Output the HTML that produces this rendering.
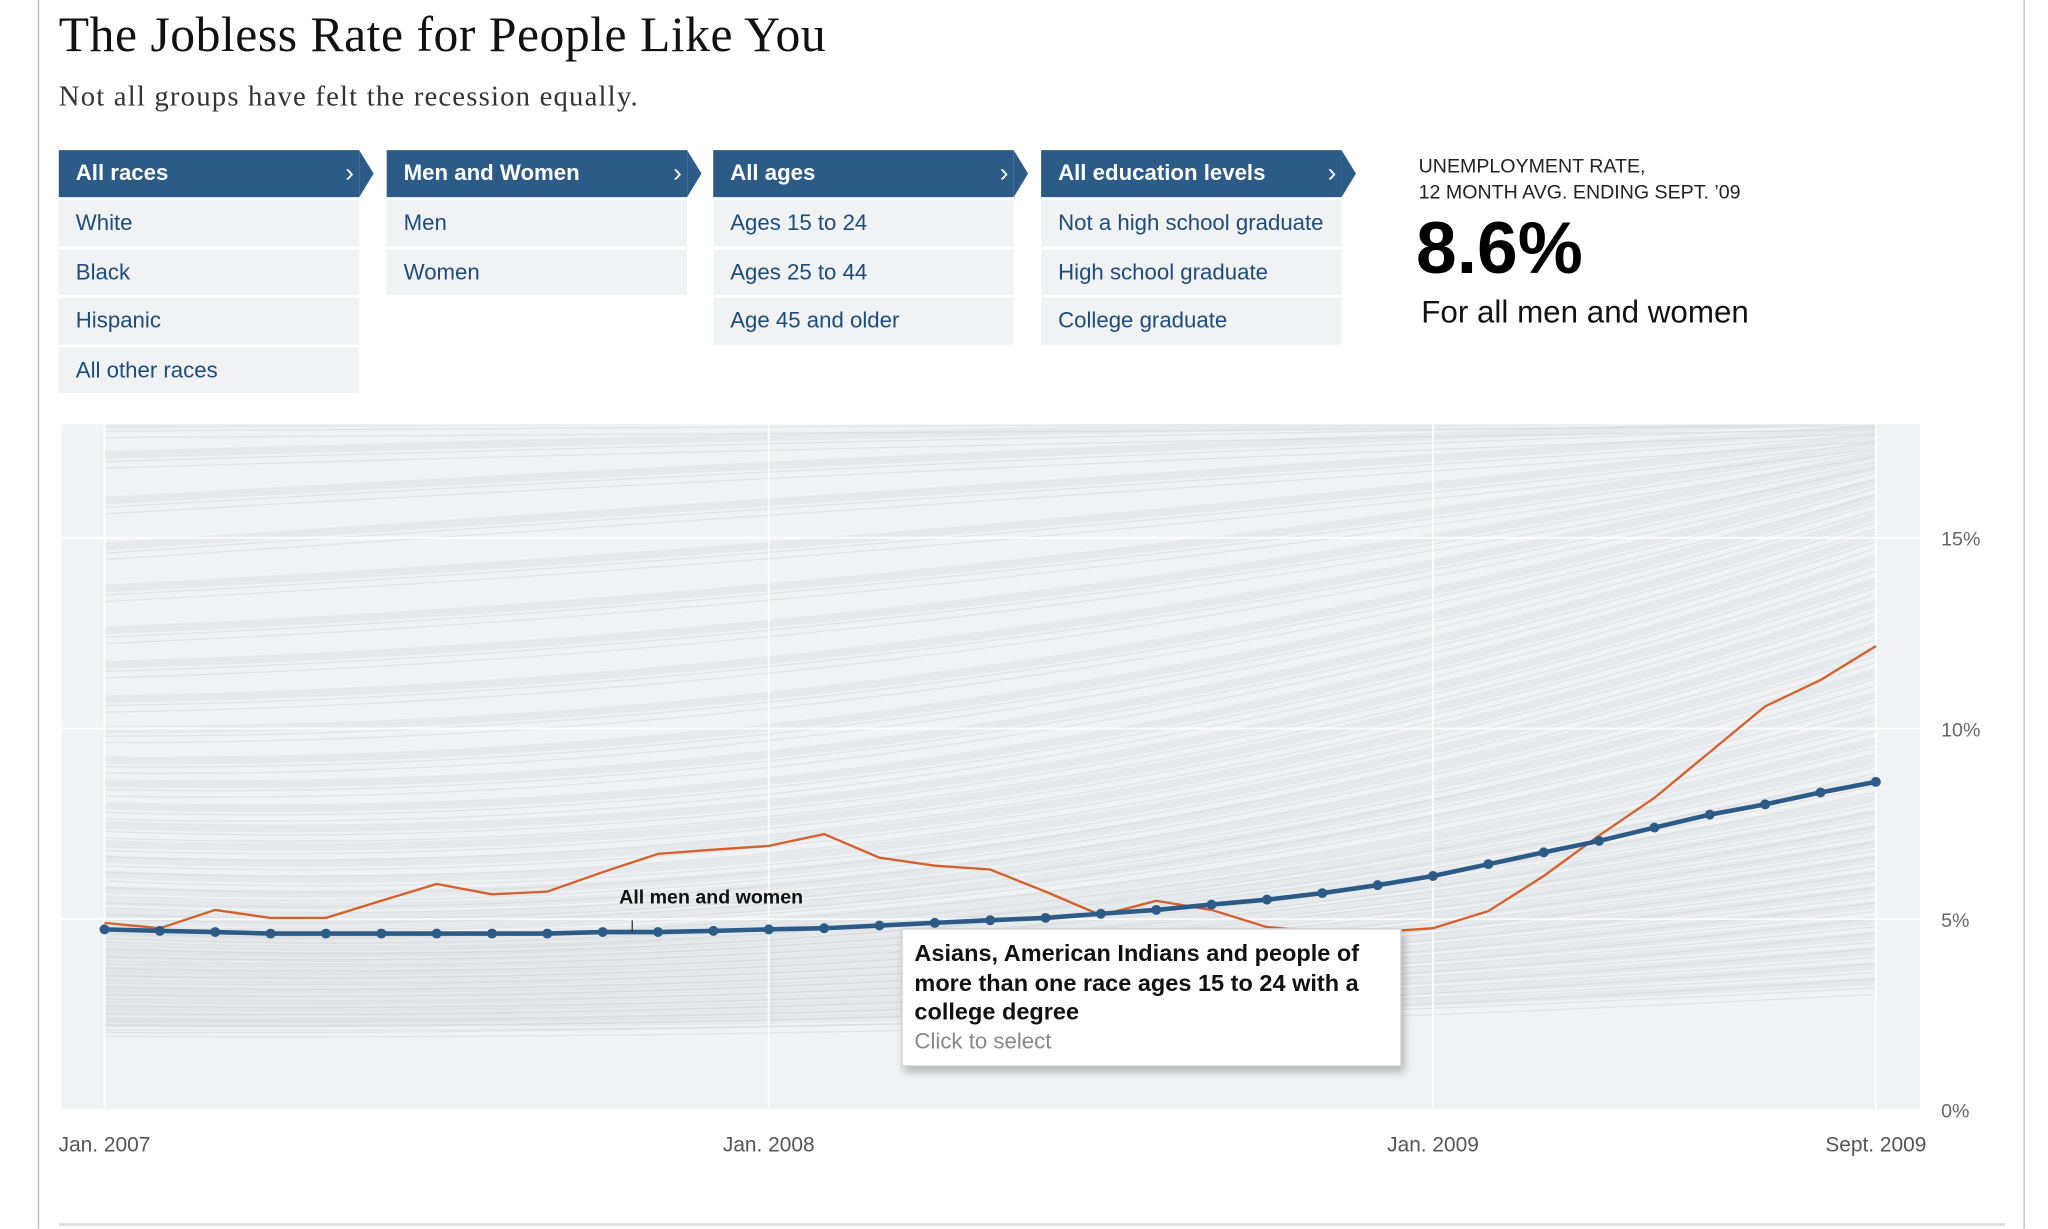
<!DOCTYPE html>
<html><head><meta charset="utf-8"><style>
html,body{margin:0;padding:0;background:#fff;}
body{width:2048px;height:1229px;overflow:hidden;position:relative;}
#wrap{position:absolute;left:0;top:0;width:1570px;height:941px;transform:scale(1.3063,1.3055);transform-origin:0 0;font-family:"Liberation Sans",sans-serif;}
.abs{position:absolute;}
.title{left:45px;top:5px;font-family:"Liberation Serif",serif;font-size:38px;letter-spacing:0.4px;color:#111;white-space:nowrap;}
.sub{left:45px;top:61px;font-family:"Liberation Serif",serif;font-size:22px;letter-spacing:0.9px;color:#333;white-space:nowrap;}
.col{position:absolute;top:115px;width:230px;}
.hdr{position:relative;height:36px;background:#2b5b86;color:#fff;font-size:17px;font-weight:bold;line-height:36px;padding-left:13px;box-sizing:border-box;}
.hdr:after{content:"";position:absolute;right:-11px;top:0;border-top:18px solid transparent;border-bottom:18px solid transparent;border-left:11px solid #2b5b86;}
.hdr span{position:absolute;right:4px;top:0;font-weight:normal;font-size:20px;}
.item{height:35.5px;margin-top:2px;background:#f0f2f4;color:#1d4c7c;font-size:17px;line-height:36px;padding-left:13px;box-sizing:border-box;}
</style></head><body>
<div id="wrap">
<div class="abs" style="left:29px;top:0;width:1px;height:941px;background:#bbb"></div>
<div class="abs" style="left:1549px;top:0;width:1px;height:941px;background:#bbb"></div>
<div class="abs title">The Jobless Rate for People Like You</div>
<div class="abs sub">Not all groups have felt the recession equally.</div>

<div class="col" style="left:45px">
<div class="hdr">All races<span>›</span></div>
<div class="item">White</div>
<div class="item">Black</div>
<div class="item">Hispanic</div>
<div class="item">All other races</div>
</div>
<div class="col" style="left:296px">
<div class="hdr">Men and Women<span>›</span></div>
<div class="item">Men</div>
<div class="item">Women</div>
</div>
<div class="col" style="left:546px">
<div class="hdr">All ages<span>›</span></div>
<div class="item">Ages 15 to 24</div>
<div class="item">Ages 25 to 44</div>
<div class="item">Age 45 and older</div>
</div>
<div class="col" style="left:797px">
<div class="hdr">All education levels<span>›</span></div>
<div class="item">Not a high school graduate</div>
<div class="item">High school graduate</div>
<div class="item">College graduate</div>
</div>

<div class="abs" style="left:1086px;top:118px;font-size:15px;line-height:20px;color:#222">UNEMPLOYMENT RATE,<br>12 MONTH AVG. ENDING SEPT. ’09</div>
<div class="abs" style="left:1084px;top:158px;font-size:56px;font-weight:bold;color:#000;line-height:64px">8.6%</div>
<div class="abs" style="left:1088px;top:226px;font-size:24px;color:#111">For all men and women</div>

<svg class="abs" style="left:0;top:0" width="1570" height="941" id="chart">
<defs><clipPath id="plotclip"><rect x="47" y="325" width="1423" height="525"/></clipPath></defs>
<g id="bglines" clip-path="url(#plotclip)"></g>
</svg>

<div class="abs" style="left:690px;top:711px;width:383px;height:106px;background:#fff;border:1px solid #ccc;box-shadow:2px 4px 6px rgba(0,0,0,0.25);box-sizing:border-box;padding:7px 9px">
<div style="font-size:18px;font-weight:bold;color:#111;line-height:22.5px">Asians, American Indians and people of more than one race ages 15 to 24 with a college degree</div>
<div style="font-size:17px;color:#888;line-height:22px">Click to select</div>
</div>
<div class="abs" style="left:45px;top:937px;width:1490px;height:2px;background:#ddd"></div>
</div>
<script>
const months = 33;
const xTickLabels = ["Jan. 2007","Jan. 2008","Jan. 2009","Sept. 2009"];
const xTickIndex = [0,12,24,32];
const yTickValues = [0,5,10,15];
const yTickLabels = ["0%","5%","10%","15%"];
const allMenWomen = [4.73,4.69,4.66,4.62,4.62,4.62,4.62,4.62,4.62,4.66,4.66,4.69,4.73,4.76,4.83,4.90,4.97,5.03,5.14,5.24,5.38,5.51,5.68,5.89,6.13,6.44,6.75,7.05,7.40,7.74,8.01,8.32,8.60];
const selectedGroup = [4.90,4.76,5.24,5.03,5.03,5.48,5.92,5.65,5.72,6.23,6.71,6.82,6.92,7.23,6.61,6.40,6.30,5.72,5.10,5.48,5.24,4.79,4.66,4.66,4.76,5.21,6.13,7.19,8.18,9.38,10.58,11.27,12.16];
const bgStart = [2.1,2.2,2.4,2.5,2.7,2.9,3.0,3.2,3.4,3.5,3.7,3.9,4.0,4.2,4.4,4.5,4.8,5.0,5.3,5.6,6.0,6.4,6.8,7.3,7.8,8.4,9.0,9.8,10.6,11.5,12.4,13.5,14.6,15.8,17.0,17.8];
const bgMid = [2.3,2.5,2.7,2.9,3.1,3.3,3.5,3.7,3.9,4.1,4.3,4.5,4.7,4.9,5.1,5.3,5.7,6.0,6.3,6.7,7.1,7.6,8.1,8.6,9.2,9.9,10.6,11.4,12.3,13.2,14.1,15.1,16.1,17.0,17.6,17.9];
const bgEnd = [3.2,3.6,4.0,4.4,4.8,5.2,5.6,6.0,6.4,6.8,7.2,7.6,8.0,8.5,9.0,9.5,10.1,10.7,11.3,11.9,12.5,13.1,13.7,14.3,14.9,15.4,15.9,16.3,16.7,17.0,17.3,17.5,17.7,17.9,18.0,18.1];
const X0=80, X1=1436, Y0=850, PXPER=29.2;
function xScale(i){return X0+(X1-X0)*i/(months-1);}
function yScale(v){return Y0-v*PXPER;}
const svg=document.getElementById('chart');
const bgG=document.getElementById('bglines');
const NS='http://www.w3.org/2000/svg';
function mk(t,a,parent){const e=document.createElementNS(NS,t);for(const k in a)e.setAttribute(k,a[k]);(parent||svg).appendChild(e);return e;}
let bg=mk('rect',{x:47,y:325,width:1423,height:525,fill:'#f0f2f4'},bgG);


for(let i=0;i<bgStart.length;i++){
 const d=`M${xScale(0)},${yScale(bgStart[i])} Q${xScale(16)},${yScale(2*bgMid[i]-(bgStart[i]+bgEnd[i])/2)} ${xScale(32)},${yScale(bgEnd[i])}`;
 for(let j=0;j<3;j++){
  let p=mk('path',{d:d,fill:'none',stroke:'#d3d6da','stroke-width':j==0?6:1,opacity:j==0?0.3:0.5,transform:`translate(0,${(j-1)*5})`},bgG);
  
  
 }
}
xTickIndex.forEach((ix,k)=>{
 let l=mk('line',{x1:xScale(ix),x2:xScale(ix),y1:325,y2:850,stroke:'#fff','stroke-width':1.5,opacity:0.8});
 
 
 let t=mk('text',{x:xScale(ix),y:882,'text-anchor':'middle','font-size':16,fill:'#555','font-family':'Liberation Sans, sans-serif'});
 t.textContent=xTickLabels[k];
 
 
});
yTickValues.forEach((v,k)=>{
 let l=mk('line',{x1:47,x2:1470,y1:yScale(v),y2:yScale(v),stroke:'#fff','stroke-width':1.5,opacity:0.8});
 
 
 let t=mk('text',{x:1486,y:yScale(v)+6,'font-size':15,fill:'#666','font-family':'Liberation Sans, sans-serif'});
 t.textContent=yTickLabels[k];
 
 
});
function pts(arr){return arr.map((v,i)=>xScale(i)+','+yScale(v)).join(' ');}
let o=mk('polyline',{points:pts(selectedGroup),fill:'none',stroke:'#d2612d','stroke-width':1.8});


let b=mk('polyline',{points:pts(allMenWomen),fill:'none',stroke:'#2b5b86','stroke-width':3.5});


allMenWomen.forEach((v,i)=>{
 let c=mk('circle',{cx:xScale(i),cy:yScale(v),r:3.8,fill:'#2b5b86'});
 
 
});
let tk=mk('line',{x1:484,x2:484,y1:705,y2:714,stroke:'#333','stroke-width':1});


let lab=mk('text',{x:474,y:692,'font-size':15,'font-weight':'bold',fill:'#111','font-family':'Liberation Sans, sans-serif'});
lab.textContent='All men and women';


</script>
</body></html>
